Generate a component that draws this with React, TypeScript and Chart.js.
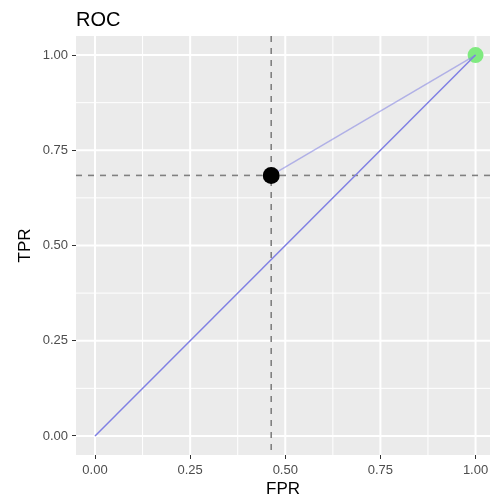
import React, { useEffect, useRef } from "react";
import { Chart, registerables } from "chart.js";

Chart.register(...registerables);

const chartTitle = "ROC";
const xAxisTitle = "FPR";
const yAxisTitle = "TPR";

const tickValues = [0, 0.25, 0.5, 0.75, 1];
const minorValues = [0.125, 0.375, 0.625, 0.875];

const diagonalFPR = [0, 1];
const diagonalTPR = [0, 1];
const curveFPR = [0.463, 1];
const curveTPR = [0.684, 1];

const cutFPR = 0.463;
const cutTPR = 0.684;
const endFPR = 1;
const endTPR = 1;

const toPts = (xs: number[], ys: number[]) => xs.map((x, i) => ({ x, y: ys[i] }));

const FONT = "'Liberation Sans', Arial, sans-serif";

const panelPlugin = {
  id: "panel",
  beforeDatasetsDraw(chart: any) {
    const { ctx, chartArea: a, scales } = chart;
    const xs = scales.x, ys = scales.y;
    ctx.save();
    ctx.fillStyle = "#EBEBEB";
    ctx.fillRect(a.left, a.top, a.right - a.left, a.bottom - a.top);
    ctx.strokeStyle = "#FFFFFF";
    const drawGrid = (vals: number[], w: number) => {
      ctx.lineWidth = w;
      vals.forEach((v) => {
        const px = xs.getPixelForValue(v);
        ctx.beginPath();
        ctx.moveTo(px, a.top);
        ctx.lineTo(px, a.bottom);
        ctx.stroke();
        const py = ys.getPixelForValue(v);
        ctx.beginPath();
        ctx.moveTo(a.left, py);
        ctx.lineTo(a.right, py);
        ctx.stroke();
      });
    };
    drawGrid(minorValues, 1);
    drawGrid(tickValues, 2);
    ctx.strokeStyle = "#808080";
    ctx.lineWidth = 1.6;
    ctx.setLineDash([6, 6]);
    const cx = xs.getPixelForValue(cutFPR);
    ctx.beginPath();
    ctx.moveTo(cx, a.top);
    ctx.lineTo(cx, a.bottom);
    ctx.stroke();
    const cy = ys.getPixelForValue(cutTPR);
    ctx.beginPath();
    ctx.moveTo(a.left, cy);
    ctx.lineTo(a.right, cy);
    ctx.stroke();
    ctx.restore();
  },
  afterDraw(chart: any) {
    const { ctx, chartArea: a } = chart;
    ctx.save();
    ctx.fillStyle = "#000000";
    ctx.font = `20px ${FONT}`;
    ctx.textAlign = "left";
    ctx.textBaseline = "alphabetic";
    ctx.fillText(chartTitle, a.left, 26);
    ctx.font = `17px ${FONT}`;
    ctx.textAlign = "center";
    ctx.fillText(xAxisTitle, (a.left + a.right) / 2, 494);
    ctx.translate(30, (a.top + a.bottom) / 2);
    ctx.rotate(-Math.PI / 2);
    ctx.fillText(yAxisTitle, 0, 0);
    ctx.restore();
  },
};

export default function App() {
  const ref = useRef<HTMLCanvasElement | null>(null);
  useEffect(() => {
    if (!ref.current) return;
    const commonScale = (axis: "x" | "y") => ({
      type: "linear" as const,
      afterBuildTicks(scale: any) {
        scale.ticks = tickValues.map((v) => ({ value: v }));
      },
      afterFit(scale: any) {
        if (axis === "x") scale.height = 43;
        else scale.width = 76;
        scale.paddingLeft = 0;
        scale.paddingRight = 0;
        scale.paddingTop = 0;
        scale.paddingBottom = 0;
      },
      grid: {
        drawOnChartArea: false,
        drawTicks: true,
        tickLength: 4,
        tickColor: "#333333",
        tickWidth: 1,
      },
      border: { display: false },
      ticks: {
        color: "#4D4D4D",
        font: { family: FONT, size: 13 },
        padding: 4,
        maxRotation: 0,
        autoSkip: false,
        callback: (v: any) => Number(v).toFixed(2),
      },
    });
    const chart = new Chart(ref.current, {
      type: "scatter",
      data: {
        datasets: [
          {
            data: [{ x: endFPR, y: endTPR }],
            backgroundColor: "#80EA80",
            borderWidth: 0,
            pointRadius: 8,
            order: 4,
          },
          {
            type: "line",
            data: toPts(curveFPR, curveTPR),
            borderColor: "rgba(128,128,226,0.55)",
            borderWidth: 1.5,
            pointRadius: 0,
            showLine: true,
            order: 3,
          } as any,
          {
            type: "line",
            data: toPts(diagonalFPR, diagonalTPR),
            borderColor: "#8080E4",
            borderWidth: 1.5,
            pointRadius: 0,
            showLine: true,
            order: 2,
          } as any,
          {
            data: [{ x: cutFPR, y: cutTPR }],
            backgroundColor: "#000000",
            borderWidth: 0,
            pointRadius: 8.5,
            order: 0,
          },
        ],
      },
      options: {
        animation: false,
        responsive: false,
        maintainAspectRatio: false,
        devicePixelRatio: 1,
        layout: { autoPadding: false, padding: { top: 36, left: 0, right: 0, bottom: 0 } },
        plugins: { legend: { display: false }, tooltip: { enabled: false }, title: { display: false } },
        scales: {
          x: { ...commonScale("x"), min: -0.05, max: 1.038, position: "bottom" },
          y: { ...commonScale("y"), min: -0.05, max: 1.05 },
        },
      } as any,
      plugins: [panelPlugin],
    });
    return () => chart.destroy();
  }, []);
  return (
    <div style={{ position: "absolute", left: 0, top: 0, width: 490, height: 498, overflow: "hidden" }}>
      <canvas ref={ref} width={490} height={498} style={{ display: "block", width: 490, height: 498 }} />
    </div>
  );
}
